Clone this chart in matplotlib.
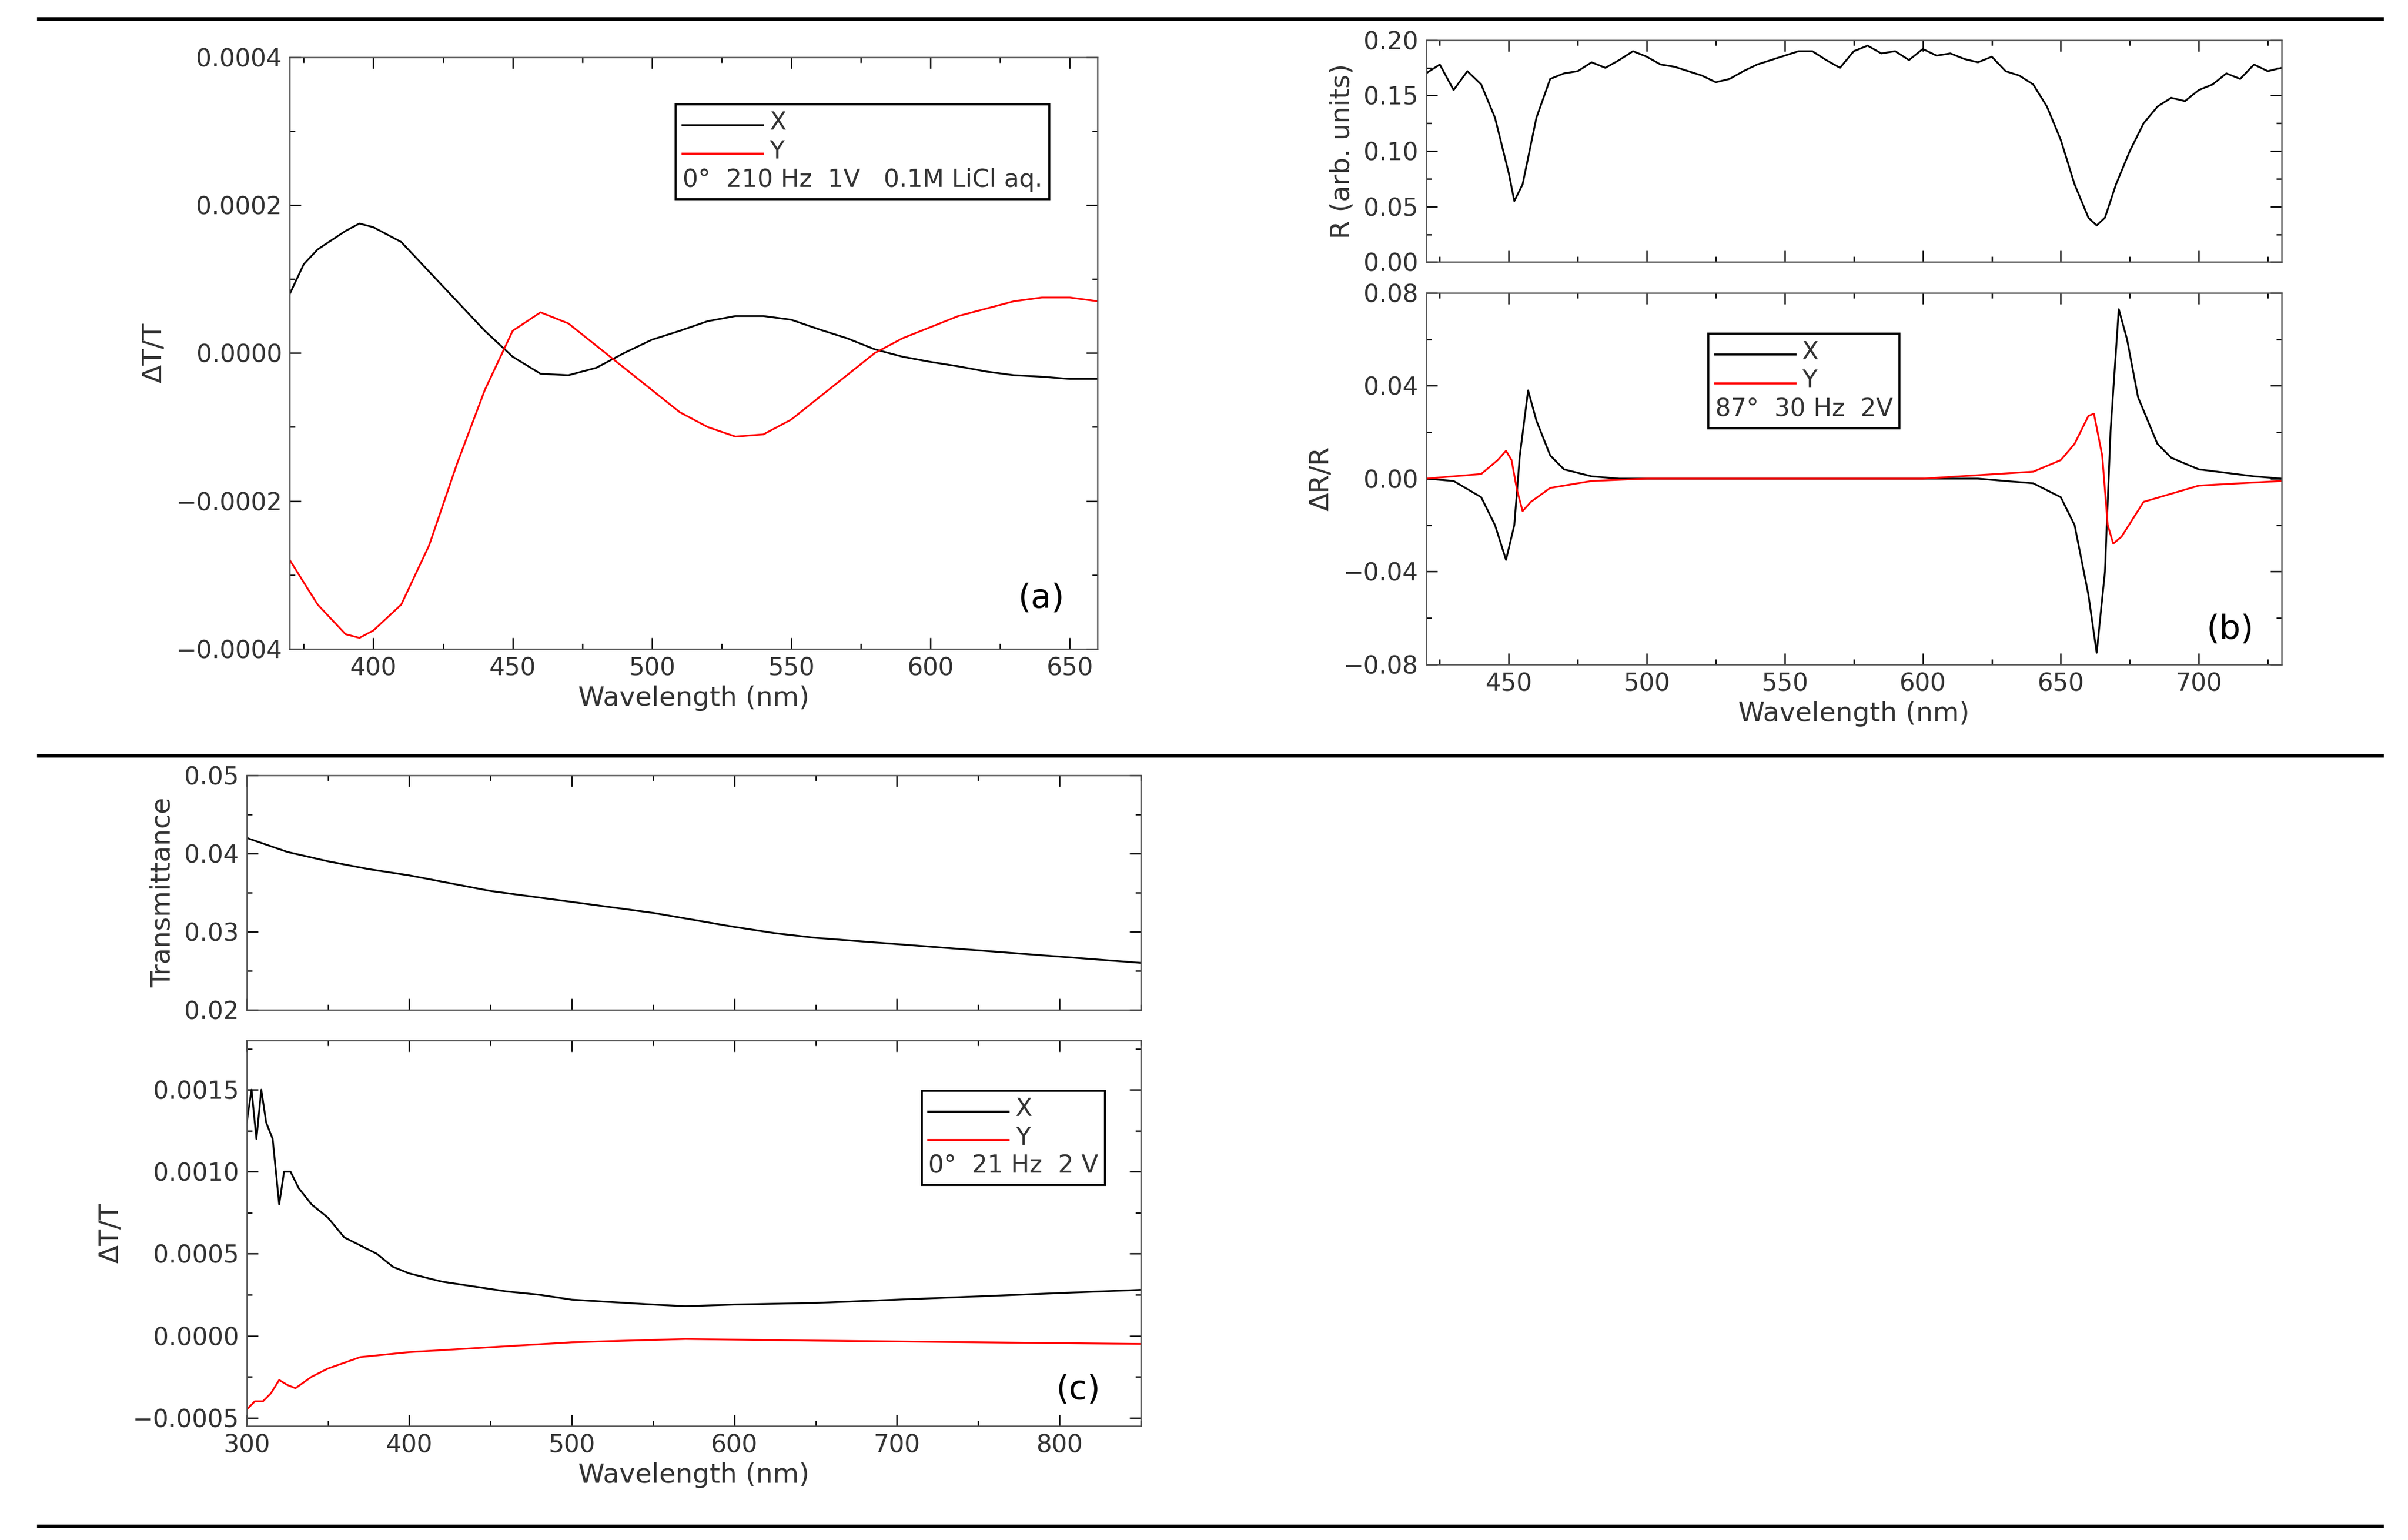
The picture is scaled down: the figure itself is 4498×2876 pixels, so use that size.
import matplotlib
matplotlib.use("Agg")
import matplotlib.pyplot as plt
from matplotlib.lines import Line2D
from matplotlib.ticker import AutoMinorLocator
from matplotlib.offsetbox import AnchoredOffsetbox, VPacker, HPacker, TextArea, DrawingArea

# ---- data ----
a_wl = [370,375,380,390,395,400,410,420,430,440,450,460,470,480,490,500,510,520,530,540,550,560,570,580,590,600,610,620,630,640,650,660]
a_x = [8e-5,1.2e-4,1.4e-4,1.65e-4,1.75e-4,1.7e-4,1.5e-4,1.1e-4,7e-5,3e-5,-5e-6,-2.8e-5,-3e-5,-2e-5,0,1.8e-5,3e-5,4.3e-5,5e-5,5e-5,4.5e-5,3.2e-5,2e-5,5e-6,-5e-6,-1.2e-5,-1.8e-5,-2.5e-5,-3e-5,-3.2e-5,-3.5e-5,-3.5e-5]
a_y = [-2.8e-4,-3.1e-4,-3.4e-4,-3.8e-4,-3.85e-4,-3.75e-4,-3.4e-4,-2.6e-4,-1.5e-4,-5e-5,3e-5,5.5e-5,4e-5,1e-5,-2e-5,-5e-5,-8e-5,-1e-4,-1.13e-4,-1.1e-4,-9e-5,-6e-5,-3e-5,0,2e-5,3.5e-5,5e-5,6e-5,7e-5,7.5e-5,7.5e-5,7e-5]

b_wl_r = [420,425,430,435,440,445,450,452,455,460,465,470,475,480,485,490,495,500,505,510,515,520,525,530,535,540,545,550,555,560,565,570,575,580,585,590,595,600,605,610,615,620,625,630,635,640,645,650,655,660,663,666,670,675,680,685,690,695,700,705,710,715,720,725,730]
b_r = [0.17,0.178,0.155,0.172,0.16,0.13,0.08,0.055,0.07,0.13,0.165,0.17,0.172,0.18,0.175,0.182,0.19,0.185,0.178,0.176,0.172,0.168,0.162,0.165,0.172,0.178,0.182,0.186,0.19,0.19,0.182,0.175,0.19,0.195,0.188,0.19,0.182,0.192,0.186,0.188,0.183,0.18,0.185,0.172,0.168,0.16,0.14,0.11,0.07,0.04,0.033,0.04,0.07,0.1,0.125,0.14,0.148,0.145,0.155,0.16,0.17,0.165,0.178,0.172,0.175]

b_wl = [420,430,440,445,449,452,454,457,460,465,470,480,490,500,550,600,620,640,650,655,660,663,666,668,671,674,678,685,690,700,720,730]
b_x = [0,-0.001,-0.008,-0.02,-0.035,-0.02,0.01,0.038,0.025,0.01,0.004,0.001,0,0,0,0,0,-0.002,-0.008,-0.02,-0.05,-0.075,-0.04,0.02,0.073,0.06,0.035,0.015,0.009,0.004,0.001,0]
b_wl_y = [420,440,446,449,451,453,455,458,465,480,500,600,640,650,655,660,662,665,667,669,672,680,700,730]
b_y = [0,0.002,0.008,0.012,0.008,-0.005,-0.014,-0.01,-0.004,-0.001,0,0,0.003,0.008,0.015,0.027,0.028,0.01,-0.02,-0.028,-0.025,-0.01,-0.003,-0.001]

c_wl_t = [300,325,350,375,400,425,450,475,500,525,550,575,600,625,650,675,700,725,750,775,800,825,850]
c_t = [0.042,0.0402,0.039,0.038,0.0372,0.0362,0.0352,0.0345,0.0338,0.0331,0.0324,0.0315,0.0306,0.0298,0.0292,0.0288,0.0284,0.028,0.0276,0.0272,0.0268,0.0264,0.026]
c_wl_x = [300,303,306,309,312,316,320,323,327,332,340,350,360,370,380,390,400,420,440,460,480,500,550,570,600,650,700,750,800,850]
c_x = [0.0013,0.0015,0.0012,0.0015,0.0013,0.0012,0.0008,0.001,0.001,0.0009,0.0008,0.00072,0.0006,0.00055,0.0005,0.00042,0.00038,0.00033,0.0003,0.00027,0.00025,0.00022,0.00019,0.00018,0.00019,0.0002,0.00022,0.00024,0.00026,0.00028]
c_wl_y = [300,305,310,315,320,325,330,340,350,370,400,450,500,570,650,750,850]
c_y = [-0.00045,-0.0004,-0.0004,-0.00035,-0.00027,-0.0003,-0.00032,-0.00025,-0.0002,-0.00013,-0.0001,-0.00007,-0.00004,-0.00002,-0.00003,-0.00004,-0.00005]

W, H = 4498, 2876
fig = plt.figure(figsize=(W/300, H/300), dpi=300)
FS = 11
TC = '#333333'

def ax_at(x0, y0, x1, y1):
    return fig.add_axes([x0/1562, 1-y1/999, (x1-x0)/1562, (y1-y0)/999])

def style(ax):
    ax.tick_params(direction='in', which='both', top=True, right=True, labelsize=FS, labelcolor=TC, width=0.6)
    ax.tick_params(which='major', length=5)
    ax.tick_params(which='minor', length=2.5)
    ax.xaxis.set_minor_locator(AutoMinorLocator(2))
    ax.yaxis.set_minor_locator(AutoMinorLocator(2))
    for s in ax.spines.values():
        s.set_linewidth(0.6); s.set_color('#555555')

def labels(ax, xl, yl):
    if xl:
        ax.set_xlabel(xl, fontsize=FS+1, color=TC, labelpad=2)
    ax.set_ylabel(yl, fontsize=FS+1, color=TC)

def legend(ax, extra, loc, anchor):
    rows = []
    for col, name in (('k', 'X'), ('red', 'Y')):
        da = DrawingArea(36, 10)
        da.add_artist(Line2D([0, 36], [4, 4], color=col, lw=0.9))
        rows.append(HPacker(children=[da, TextArea(name, textprops=dict(fontsize=FS, color=TC))], pad=0, sep=3, align='center'))
    rows.append(TextArea(extra, textprops=dict(fontsize=FS, color=TC)))
    box = VPacker(children=rows, pad=0, sep=2, align='left')
    ab = AnchoredOffsetbox(loc=loc, child=box, pad=0.3, borderpad=0, frameon=True,
                           bbox_to_anchor=anchor, bbox_transform=ax.transAxes)
    ab.patch.set_edgecolor('k'); ab.patch.set_linewidth(0.9)
    ab.patch.set_boxstyle('square', pad=0)
    ax.add_artist(ab)

for y in (12, 490, 990):
    fig.add_artist(Line2D([25/1562, 1545/1562], [1-y/999]*2, color='k', lw=1.6))

# (a)
ax = ax_at(188, 37, 712, 421)
ax.plot(a_wl, a_x, color='k', lw=0.8)
ax.plot(a_wl, a_y, color='red', lw=0.8)
ax.set_xlim(370, 660); ax.set_ylim(-0.0004, 0.0004)
ax.set_xticks([400,450,500,550,600,650]); ax.set_yticks([-0.0004,-0.0002,0,0.0002,0.0004])
ax.set_yticklabels(['\u22120.0004','\u22120.0002','0.0000','0.0002','0.0004'])
labels(ax, 'Wavelength (nm)', '\u0394T/T')
style(ax)
legend(ax, '0\u00b0  210 Hz  1V   0.1M LiCl aq.', 'upper right', (0.94, 0.92))
ax.text(0.93, 0.07, '(a)', transform=ax.transAxes, fontsize=FS+4, ha='center')

# (b) top
ax = ax_at(925, 26, 1480, 170)
ax.plot(b_wl_r, b_r, color='k', lw=0.8)
ax.set_xlim(420, 730); ax.set_ylim(0, 0.2)
ax.set_xticks([450,500,550,600,650,700]); ax.set_xticklabels([])
ax.set_yticks([0,0.05,0.1,0.15,0.2])
ax.set_yticklabels(['0.00','0.05','0.10','0.15','0.20'])
labels(ax, None, 'R (arb. units)')
style(ax)
# (b) bottom
ax = ax_at(925, 190, 1480, 431)
ax.plot(b_wl, b_x, color='k', lw=0.8)
ax.plot(b_wl_y, b_y, color='red', lw=0.8)
ax.set_xlim(420, 730); ax.set_ylim(-0.08, 0.08)
ax.set_xticks([450,500,550,600,650,700]); ax.set_yticks([-0.08,-0.04,0,0.04,0.08])
ax.set_yticklabels(['\u22120.08','\u22120.04','0.00','0.04','0.08'])
labels(ax, 'Wavelength (nm)', '\u0394R/R')
style(ax)
legend(ax, '87\u00b0  30 Hz  2V', 'upper left', (0.33, 0.89))
ax.text(0.94, 0.07, '(b)', transform=ax.transAxes, fontsize=FS+4, ha='center')

# (c) top
ax = ax_at(160, 503, 740, 655)
ax.plot(c_wl_t, c_t, color='k', lw=0.8)
ax.set_xlim(300, 850); ax.set_ylim(0.02, 0.05)
ax.set_xticks([300,400,500,600,700,800]); ax.set_xticklabels([])
ax.set_yticks([0.02,0.03,0.04,0.05])
labels(ax, None, 'Transmittance')
style(ax)
# (c) bottom
ax = ax_at(160, 675, 740, 925)
ax.plot(c_wl_x, c_x, color='k', lw=0.8)
ax.plot(c_wl_y, c_y, color='red', lw=0.8)
ax.set_xlim(300, 850); ax.set_ylim(-0.00055, 0.0018)
ax.set_xticks([300,400,500,600,700,800]); ax.set_yticks([-0.0005,0,0.0005,0.001,0.0015])
ax.set_yticklabels(['\u22120.0005','0.0000','0.0005','0.0010','0.0015'])
labels(ax, 'Wavelength (nm)', '\u0394T/T')
style(ax)
legend(ax, '0\u00b0  21 Hz  2 V', 'upper right', (0.96, 0.87))
ax.text(0.93, 0.07, '(c)', transform=ax.transAxes, fontsize=FS+4, ha='center')

fig.savefig('out.png', dpi=300, facecolor='white')
